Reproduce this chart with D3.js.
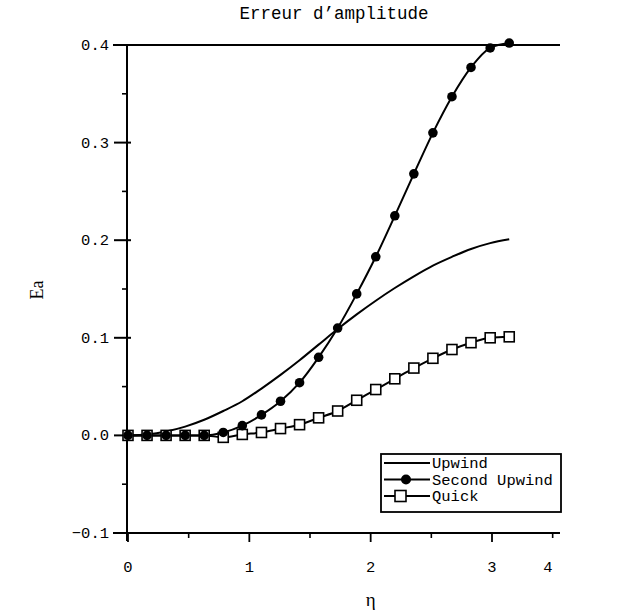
<!DOCTYPE html>
<html>
<head>
<meta charset="utf-8">
<script src="https://cdn.jsdelivr.net/npm/d3@7"></script>
<style>
  body { margin: 0; background: #fff; }
  text { fill: #000; }
</style>
</head>
<body>
<div id="chart"></div>
<script>
// sample positions (eta = k*pi/20)
const eta = [0, 0.157, 0.314, 0.471, 0.628, 0.785, 0.942, 1.100, 1.257, 1.414, 1.571,
             1.728, 1.885, 2.042, 2.199, 2.356, 2.513, 2.670, 2.827, 2.985, 3.142];

const upwind = [0, 0.001, 0.004, 0.009, 0.016, 0.025, 0.035, 0.048, 0.062, 0.077, 0.093,
                0.109, 0.124, 0.138, 0.151, 0.163, 0.174, 0.183, 0.191, 0.197, 0.201];
const secondUpwind = [0, 0, 0, 0, 0, 0.003, 0.010, 0.021, 0.035, 0.054, 0.080,
                      0.110, 0.145, 0.183, 0.225, 0.268, 0.310, 0.347, 0.377, 0.397, 0.402];
const quick = [0, 0, 0, 0, 0, -0.002, 0.001, 0.003, 0.007, 0.011, 0.018,
               0.025, 0.036, 0.047, 0.058, 0.069, 0.079, 0.088, 0.095, 0.100, 0.101];

const xTicks = [0, 1, 2, 3];
const xMinor = [0.5, 1.5, 2.5, 3.5];
const yTicks = [-0.1, 0.0, 0.1, 0.2, 0.3, 0.4];
const yMinor = [-0.05, 0.05, 0.15, 0.25, 0.35];
const legendNames = ["Upwind", "Second Upwind", "Quick"];

const W = 630, H = 611;
const svg = d3.select("#chart").append("svg").attr("width", W).attr("height", H);

const x = d3.scaleLinear().domain([0, 3]).range([128, 492]);
const y = d3.scaleLinear().domain([-0.1, 0.4]).range([533, 45]);

const mono = "'Liberation Mono', 'DejaVu Sans Mono', monospace";
const serif = "'Liberation Serif', 'DejaVu Serif', serif";

// frame lines (top and bottom, no right side)
const left = 113, right = 560;
svg.append("line").attr("x1", left).attr("x2", right).attr("y1", y(0.4)).attr("y2", y(0.4))
  .attr("stroke", "#000").attr("stroke-width", 2.2);
svg.append("line").attr("x1", left).attr("x2", right).attr("y1", y(-0.1)).attr("y2", y(-0.1))
  .attr("stroke", "#000").attr("stroke-width", 2.2);
svg.append("line").attr("x1", x(0) - 1).attr("x2", x(0) - 1).attr("y1", y(0.4)).attr("y2", y(-0.1) + 8)
  .attr("stroke", "#000").attr("stroke-width", 2);

// y ticks
svg.append("g").selectAll("line").data(yTicks).join("line")
  .attr("x1", x(0) - 14).attr("x2", x(0) + 3)
  .attr("y1", d => y(d)).attr("y2", d => y(d))
  .attr("stroke", "#000").attr("stroke-width", 2);
svg.append("g").selectAll("line").data(yMinor).join("line")
  .attr("x1", x(0) - 6).attr("x2", x(0))
  .attr("y1", d => y(d)).attr("y2", d => y(d))
  .attr("stroke", "#000").attr("stroke-width", 1.6);
svg.append("g").selectAll("text").data(yTicks).join("text")
  .attr("x", 109).attr("y", d => y(d) + 5)
  .attr("text-anchor", "end")
  .style("font-family", mono).style("font-size", "15.5px")
  .text(d => d3.format(".1f")(d));

// x ticks
svg.append("g").selectAll("line").data(xTicks).join("line")
  .attr("x1", d => x(d)).attr("x2", d => x(d))
  .attr("y1", y(-0.1)).attr("y2", y(-0.1) + 9)
  .attr("stroke", "#000").attr("stroke-width", 1.8);
svg.append("g").selectAll("line").data(xMinor).join("line")
  .attr("x1", d => x(d)).attr("x2", d => x(d))
  .attr("y1", y(-0.1)).attr("y2", y(-0.1) + 5)
  .attr("stroke", "#000").attr("stroke-width", 1.6);
svg.append("g").selectAll("text").data(xTicks).join("text")
  .attr("x", d => x(d)).attr("y", 572)
  .attr("text-anchor", "middle")
  .style("font-family", mono).style("font-size", "15.5px")
  .text(d => d);
// the scanned axis prints "4" near its right end
svg.append("text").attr("x", x(3.46)).attr("y", 572).attr("text-anchor", "middle")
  .style("font-family", mono).style("font-size", "15.5px").text("4");

// titles
svg.append("text").attr("x", 334).attr("y", 19).attr("text-anchor", "middle")
  .style("font-family", mono).style("font-size", "17.5px")
  .text("Erreur d\u2019amplitude");
svg.append("text").attr("transform", "translate(43,290) rotate(-90)")
  .attr("text-anchor", "middle")
  .style("font-family", serif).style("font-size", "18px")
  .text("Ea");
svg.append("text").attr("x", x(2)).attr("y", 606).attr("text-anchor", "middle")
  .style("font-family", serif).style("font-size", "19px")
  .text("\u03b7");

// curves
const line = d3.line().x(d => x(d[0])).y(d => y(d[1])).curve(d3.curveMonotoneX);
const ser = [upwind, secondUpwind, quick].map(v => eta.map((e, i) => [e, v[i]]));
ser.forEach(s => {
  svg.append("path").attr("d", line(s)).attr("fill", "none")
    .attr("stroke", "#000").attr("stroke-width", 2);
});
svg.append("g").selectAll("rect").data(ser[2]).join("rect")
  .attr("x", d => x(d[0]) - 5).attr("y", d => y(d[1]) - 5)
  .attr("width", 10).attr("height", 10)
  .attr("fill", "#fff").attr("stroke", "#000").attr("stroke-width", 1.6);
svg.append("g").selectAll("circle").data(ser[1]).join("circle")
  .attr("cx", d => x(d[0])).attr("cy", d => y(d[1])).attr("r", 4.8)
  .attr("fill", "#000");

// legend
const lg = svg.append("g");
lg.append("rect").attr("x", 381).attr("y", 454).attr("width", 180).attr("height", 58)
  .attr("fill", "#fff").attr("stroke", "#000").attr("stroke-width", 1.8);
legendNames.forEach((name, i) => {
  const ly = 463 + i * 16.5;
  lg.append("line").attr("x1", 384).attr("x2", 430).attr("y1", ly).attr("y2", ly)
    .attr("stroke", "#000").attr("stroke-width", 2);
  if (i === 1) lg.append("circle").attr("cx", 406).attr("cy", ly).attr("r", 5).attr("fill", "#000");
  if (i === 2) lg.append("rect").attr("x", 395).attr("y", ly - 5.5).attr("width", 11).attr("height", 11)
    .attr("fill", "#fff").attr("stroke", "#000").attr("stroke-width", 1.6);
  lg.append("text").attr("x", 432).attr("y", ly + 5)
    .style("font-family", mono).style("font-size", "15.5px")
    .text(name);
});
</script>
</body>
</html>
